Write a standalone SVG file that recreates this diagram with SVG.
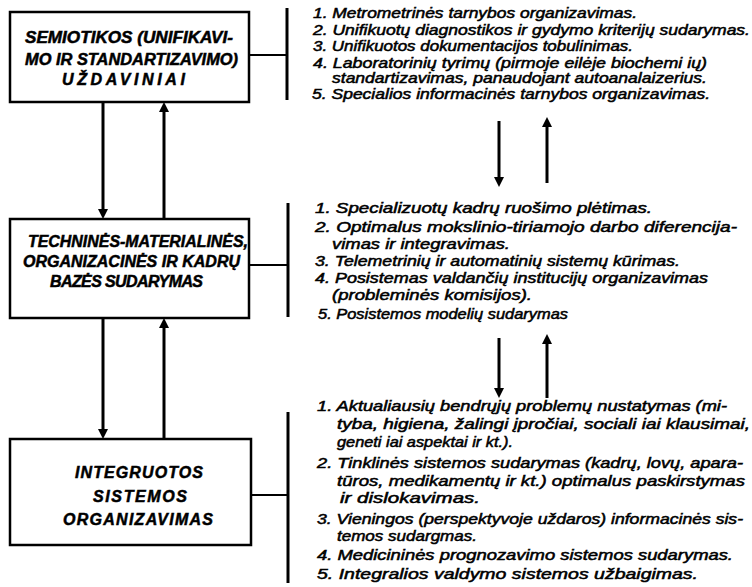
<svg xmlns="http://www.w3.org/2000/svg" width="752" height="587" viewBox="0 0 752 587">
<style>
.box{fill:#fff;stroke:#000;stroke-width:2.5}
.bt{font-family:"Liberation Sans",Arial,sans-serif;font-weight:bold;font-style:italic;font-size:16px;fill:#000;stroke:#000;stroke-width:0.5}
.lt{font-family:"Liberation Sans",Arial,sans-serif;font-style:italic;font-size:14px;fill:#000;stroke:#000;stroke-width:0.5}
.ar{stroke:#000;stroke-width:3;fill:none}
.br{stroke:#000;stroke-width:3;fill:none}
.cn{stroke:#000;stroke-width:2;fill:none}
</style>
<defs>
<marker id="ah" viewBox="0 0 10 10" refX="0" refY="5" markerWidth="10" markerHeight="10" markerUnits="userSpaceOnUse" orient="auto">
<path d="M0,0 L10,5 L0,10 z" fill="#000"/>
</marker>
</defs>
<rect width="752" height="587" fill="#fff"/>
<g id="node1">
<rect class="box" x="10" y="12" width="239" height="90"/>
<text class="bt" x="25" y="43" textLength="208" lengthAdjust="spacingAndGlyphs">SEMIOTIKOS (UNIFIKAVI-</text>
<text class="bt" x="25" y="65" textLength="213" lengthAdjust="spacingAndGlyphs">MO IR STANDARTIZAVIMO)</text>
<text class="bt" x="62" y="85" textLength="123" lengthAdjust="spacing">UŽDAVINIAI</text>
</g>
<g id="node2">
<rect class="box" x="10" y="219" width="239" height="99"/>
<text class="bt" x="28" y="247" textLength="220" lengthAdjust="spacingAndGlyphs">TECHNINĖS-MATERIALINĖS,</text>
<text class="bt" x="23" y="267" textLength="217" lengthAdjust="spacingAndGlyphs">ORGANIZACINĖS IR KADRŲ</text>
<text class="bt" x="50" y="287" textLength="153" lengthAdjust="spacing">BAZĖS SUDARYMAS</text>
</g>
<g id="node3">
<rect class="box" x="10" y="439" width="241" height="106"/>
<text class="bt" x="75" y="478" textLength="128" lengthAdjust="spacing">INTEGRUOTOS</text>
<text class="bt" x="93" y="502" textLength="94" lengthAdjust="spacing">SISTEMOS</text>
<text class="bt" x="63" y="525" textLength="150" lengthAdjust="spacing">ORGANIZAVIMAS</text>
</g>
<g id="list1">
<text class="lt" x="313" y="18" textLength="324" lengthAdjust="spacingAndGlyphs">1. Metrometrinės tarnybos organizavimas.</text>
<text class="lt" x="313" y="35" textLength="437" lengthAdjust="spacingAndGlyphs">2. Unifikuotų diagnostikos ir gydymo kriterijų sudarymas.</text>
<text class="lt" x="313" y="51" textLength="320" lengthAdjust="spacingAndGlyphs">3. Unifikuotos dokumentacijos tobulinimas.</text>
<text class="lt" x="313" y="68" textLength="394" lengthAdjust="spacingAndGlyphs">4. Laboratorinių tyrimų (pirmoje eilėje biochemi ių)</text>
<text class="lt" x="332" y="83" textLength="375" lengthAdjust="spacingAndGlyphs">standartizavimas, panaudojant autoanalaizerius.</text>
<text class="lt" x="312" y="99" textLength="398" lengthAdjust="spacingAndGlyphs">5. Specialios informacinės tarnybos organizavimas.</text>
</g>
<g id="list2">
<text class="lt" x="315" y="213" textLength="337" lengthAdjust="spacingAndGlyphs">1. Specializuotų kadrų ruošimo plėtimas.</text>
<text class="lt" x="315" y="232" textLength="422" lengthAdjust="spacingAndGlyphs">2. Optimalus mokslinio-tiriamojo darbo diferencija-</text>
<text class="lt" x="332" y="249" textLength="178" lengthAdjust="spacingAndGlyphs">vimas ir integravimas.</text>
<text class="lt" x="315" y="266" textLength="365" lengthAdjust="spacingAndGlyphs">3. Telemetrinių ir automatinių sistemų kūrimas.</text>
<text class="lt" x="315" y="283" textLength="393" lengthAdjust="spacingAndGlyphs">4. Posistemas valdančių institucijų organizavimas</text>
<text class="lt" x="332" y="300" textLength="200" lengthAdjust="spacingAndGlyphs">(probleminės komisijos).</text>
<text class="lt" x="318" y="319" textLength="250" lengthAdjust="spacingAndGlyphs">5. Posistemos modelių sudarymas</text>
</g>
<g id="list3">
<text class="lt" x="317" y="411" textLength="410" lengthAdjust="spacingAndGlyphs">1. Aktualiausių bendrųjų problemų nustatymas (mi-</text>
<text class="lt" x="337" y="429" textLength="413" lengthAdjust="spacingAndGlyphs">tyba, higiena, žalingi įpročiai, sociali iai klausimai,</text>
<text class="lt" x="337" y="447" textLength="176" lengthAdjust="spacingAndGlyphs">geneti iai aspektai ir kt.).</text>
<text class="lt" x="317" y="468" textLength="426" lengthAdjust="spacingAndGlyphs">2. Tinklinės sistemos sudarymas (kadrų, lovų, apara-</text>
<text class="lt" x="337" y="486" textLength="408" lengthAdjust="spacingAndGlyphs">tūros, medikamentų ir kt.) optimalus paskirstymas</text>
<text class="lt" x="340" y="503" textLength="140" lengthAdjust="spacingAndGlyphs">ir dislokavimas.</text>
<text class="lt" x="317" y="524" textLength="426" lengthAdjust="spacingAndGlyphs">3. Vieningos (perspektyvoje uždaros) informacinės sis-</text>
<text class="lt" x="337" y="541" textLength="140" lengthAdjust="spacingAndGlyphs">temos sudargmas.</text>
<text class="lt" x="317" y="560" textLength="416" lengthAdjust="spacingAndGlyphs">4. Medicininės prognozavimo sistemos sudarymas.</text>
<text class="lt" x="317" y="579" textLength="381" lengthAdjust="spacingAndGlyphs">5. Integralios valdymo sistemos užbaigimas.</text>
</g>
<g id="connectors">
<line class="br" x1="287" y1="8" x2="287" y2="100"/>
<line class="cn" x1="249" y1="55" x2="287" y2="55"/>
<line class="br" x1="288" y1="203" x2="288" y2="317"/>
<line class="cn" x1="249" y1="265" x2="288" y2="265"/>
<line class="br" x1="288" y1="412" x2="288" y2="583"/>
<line class="cn" x1="251" y1="495" x2="288" y2="495"/>
<line class="ar" x1="103" y1="103" x2="103" y2="209" marker-end="url(#ah)"/>
<line class="ar" x1="164" y1="218" x2="164" y2="112" marker-end="url(#ah)"/>
<line class="ar" x1="103" y1="319" x2="103" y2="429" marker-end="url(#ah)"/>
<line class="ar" x1="164" y1="438" x2="164" y2="328" marker-end="url(#ah)"/>
<line class="ar" x1="499" y1="121" x2="499" y2="177" marker-end="url(#ah)"/>
<line class="ar" x1="547" y1="183" x2="547" y2="127" marker-end="url(#ah)"/>
<line class="ar" x1="499" y1="338" x2="499" y2="388" marker-end="url(#ah)"/>
<line class="ar" x1="547" y1="398" x2="547" y2="344" marker-end="url(#ah)"/>
</g>
</svg>
